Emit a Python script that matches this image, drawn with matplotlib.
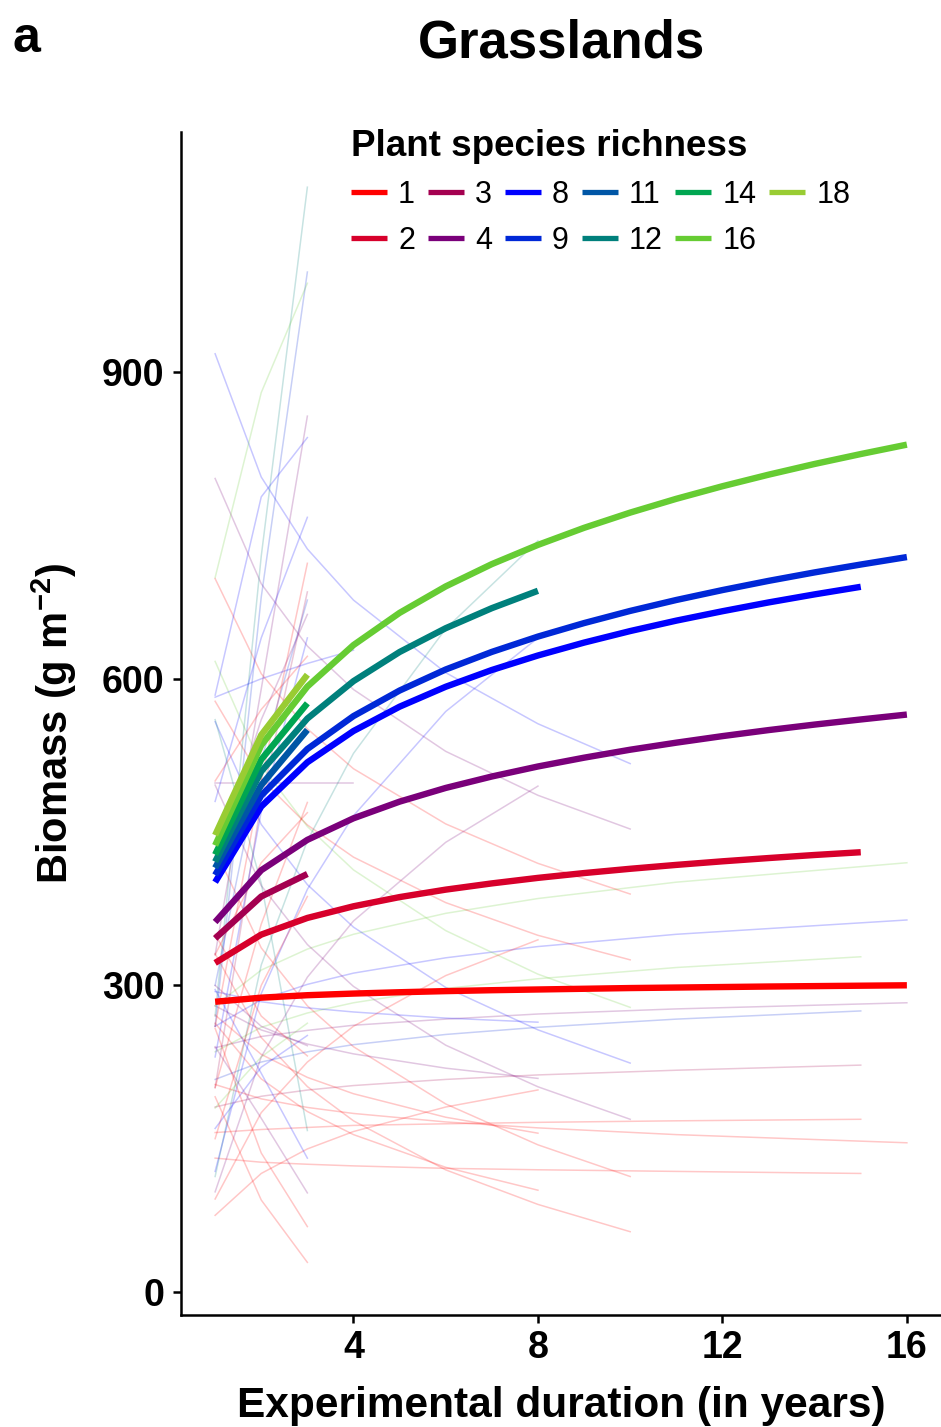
import matplotlib
matplotlib.use("Agg")
import matplotlib.pyplot as plt

plt.rcParams['font.family'] = ['Liberation Sans', 'DejaVu Sans']
plt.rcParams['mathtext.fontset'] = 'custom'
plt.rcParams['mathtext.bf'] = 'Liberation Sans:bold'
plt.rcParams['mathtext.rm'] = 'Liberation Sans:bold'
plt.rcParams['mathtext.default'] = 'bf'

# plant species richness levels and their colours
richness = [1, 2, 3, 4, 8, 9, 11, 12, 14, 16, 18]
colors = ['#FF0000', '#D7002B', '#A40050', '#7A007A', '#0000FF', '#0028D7',
          '#0056A6', '#00807C', '#00A651', '#66CC33', '#99CC33']

# fitted mean biomass per richness level, one value per year (from year 1)
fit_r1 = [284, 288, 290.4, 292, 293.3, 294.4, 295.3, 296, 296.7, 297.4, 297.9, 298.4, 298.9, 299.3, 299.7, 300.1]
fit_r2 = [322, 349.7, 366, 377.4, 386.4, 393.7, 399.8, 405.2, 409.9, 414.1, 417.9, 421.4, 424.6, 427.6, 430.3]
fit_r3 = [346, 387, 409]
fit_r4 = [362, 412.7, 442.4, 463.5, 479.8, 493.2, 504.4, 514.2, 522.8, 530.6, 537.5, 543.9, 549.8, 555.2, 560.2, 565]
fit_r8 = [401, 475, 518.3, 548.9, 572.7, 592.2, 608.6, 622.8, 635.4, 646.7, 656.9, 666.1, 674.7, 682.6, 690]
fit_r9 = [408, 485.8, 531.3, 563.5, 588.5, 609.1, 626.3, 641.3, 654.5, 666.4, 677.1, 686.8, 695.8, 704.1, 711.8, 719.1]
fit_r11 = [415, 496, 550]
fit_r12 = [421, 509.4, 561.1, 597.7, 626.2, 649.5, 669.1, 686.1]
fit_r14 = [428, 521, 576]
fit_r16 = [437, 535, 592.4, 633, 664.5, 690.4, 712.2, 731, 747.7, 762.6, 776.1, 788.4, 799.7, 810.2, 819.9, 829.1]
fit_r18 = [447, 545, 604]
fits = [fit_r1, fit_r2, fit_r3, fit_r4, fit_r8, fit_r9, fit_r11, fit_r12, fit_r14, fit_r16, fit_r18]

# individual experiments: richness, last year, biomass at the sampled years
year_grid = {3: [1, 2, 3], 4: [1, 2, 3, 4], 8: [1, 2, 3, 4, 6, 8],
             10: [1, 2, 3, 4, 6, 8, 10], 15: [1, 2, 3, 4, 6, 8, 11, 15],
             16: [1, 2, 3, 4, 6, 8, 11, 16]}
thin_rich = [16, 8, 4, 1,
             16, 9, 3, 1, 1,
             1, 1, 8, 4, 16, 8, 4, 1, 1,
             1, 8, 4, 1, 1, 1, 4, 12, 8,
             4, 8,
             12, 9, 16, 4, 8, 8, 1, 3, 9, 4, 8, 1, 1, 1, 1,
             16, 8, 4, 1, 12, 8, 4, 1, 1]
thin_end = [16, 16, 16, 16,
            15, 15, 15, 15, 15,
            10, 10, 10, 10, 10, 10, 10, 10, 10,
            8, 8, 8, 8, 8, 8, 8, 8, 8,
            4, 4,
            3, 3, 3, 3, 3, 3, 3, 3, 3, 3, 3, 3, 3, 3, 3,
            3, 3, 3, 3, 3, 3, 3, 3, 3]
thin_vals = [
    [280, 315, 335.5, 350, 370.5, 385, 401, 420],
    [260, 286, 301, 312, 327, 338, 350, 364],
    [239, 250, 256, 261, 267, 272, 277, 283],
    [203, 189, 180.6, 174.7, 166.4, 160.6, 154, 146],
    [235, 259, 273, 283, 297, 306.5, 317.5, 328],
    [208, 225, 235, 242, 252, 259, 267, 275],
    [181, 191.5, 197.6, 202, 208, 212.4, 217, 222],
    [156, 159, 161, 163, 164.6, 166, 167.5, 169],
    [131, 127, 125, 123.4, 121, 119.6, 118, 116],
    [698, 605, 551, 512, 458, 419.4, 389.4],
    [578, 502, 457, 425.5, 381, 349, 325],
    [918, 797.4, 727, 677, 606, 556, 517],
    [796, 693, 632, 589.5, 529, 486, 453],
    [617, 515, 455.5, 413, 353.6, 311, 278.5],
    [558, 457.5, 398.6, 357, 298, 256.5, 224],
    [496, 397.6, 340, 299, 241.5, 200.8, 169],
    [433, 336.7, 280, 240, 184, 144, 113],
    [331, 249, 201, 167.5, 119.5, 85.7, 59],
    [91, 175.5, 225, 260, 309.6, 344.6],
    [294, 284, 278, 274, 268, 264],
    [280, 256.4, 242.6, 233, 219, 209],
    [75, 116, 140, 157, 181, 197.7],
    [271, 232.5, 210, 194, 171, 155.4],
    [263, 208.5, 176.6, 154, 122, 99.6],
    [98, 230, 308, 363, 440, 495],
    [113, 320, 441.6, 527, 649, 735],
    [118, 292, 394, 466, 568, 640],
    [498, 498, 498, 498],
    [582, 600, 615, 628],
    [270, 720, 1081],
    [260, 680, 998],
    [699, 880, 987],
    [330, 590, 857],
    [584, 778, 836],
    [480, 640, 758],
    [260, 500, 713],
    [200, 480, 685],
    [300, 520, 677],
    [420, 560, 663],
    [230, 470, 640],
    [500, 570, 622],
    [200, 360, 479],
    [330, 420, 469],
    [150, 300, 387],
    [180, 230, 263],
    [160, 220, 251],
    [300, 260, 241],
    [350, 270, 231],
    [560, 400, 158],
    [296, 214, 131],
    [240, 170, 97],
    [258, 136, 64],
    [191, 90, 29],
]

color_of = dict(zip(richness, colors))

fig = plt.figure(figsize=(9.41, 14.27), dpi=100)
ax = fig.add_axes([181 / 941, 112 / 1427, 760 / 941, 1183 / 1427])

# thin experiment lines
for r, end, vals in zip(thin_rich, thin_end, thin_vals):
    ax.plot(year_grid[end], vals, color=color_of[r], alpha=0.22, lw=1.1, zorder=1)

# thick fitted lines
for r, c, vals in zip(richness, colors, fits):
    ax.plot(range(1, len(vals) + 1), vals, color=c, lw=4.6,
            solid_capstyle='butt', label=str(r), zorder=2)

ax.set_xlim(0.26, 16.74)
ax.set_ylim(-22.5, 1135)
ax.set_xticks([4, 8, 12, 16])
ax.set_yticks([0, 300, 600, 900])
for s in ['top', 'right']:
    ax.spines[s].set_visible(False)
for s in ['left', 'bottom']:
    ax.spines[s].set_linewidth(1.8)
ax.tick_params(width=1.8, length=6, labelsize=27)
ax.tick_params(axis='x', pad=5)
ax.tick_params(axis='y', pad=6)
for lab in ax.get_xticklabels() + ax.get_yticklabels():
    lab.set_fontweight('bold')

ax.set_xlabel('Experimental duration (in years)', fontsize=30.5, fontweight='bold', labelpad=14)
ax.set_ylabel(r'Biomass (g m$^{-2}$)', fontsize=30, fontweight='bold', labelpad=16)

leg = ax.legend(ncol=6, frameon=False, fontsize=22, title='Plant species richness',
                title_fontproperties={'weight': 'bold', 'size': 26.5},
                loc='upper left', bbox_to_anchor=(351 / 941, 1 - 129 / 1427),
                bbox_transform=fig.transFigure, borderpad=0, handlelength=1.18,
                handletextpad=0.36, columnspacing=0.42, labelspacing=0.52,
                alignment='left', borderaxespad=0)
for h in leg.legend_handles:
    h.set_linewidth(3.8)

fig.text(561 / 941, 1 - 58 / 1427, 'Grasslands', fontsize=38, fontweight='bold',
         ha='center', va='baseline')
fig.text(12 / 941, 1 - 52 / 1427, 'a', fontsize=36, fontweight='bold',
         ha='left', va='baseline')

fig.savefig('out.png', dpi=100)
